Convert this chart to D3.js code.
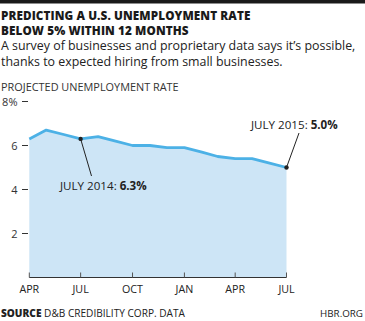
<!DOCTYPE html>
<html><head><meta charset="utf-8">
<script src="https://cdn.jsdelivr.net/npm/d3@7"></script>
<style>
html,body{margin:0;padding:0;background:#fff;}
svg{display:block;font-family:"Open Sans",sans-serif;}
</style></head>
<body>
<svg id="c" width="365" height="321"></svg>
<script>
const months = ["2014-04","2014-05","2014-06","2014-07","2014-08","2014-09","2014-10","2014-11","2014-12","2015-01","2015-02","2015-03","2015-04","2015-05","2015-06","2015-07"];
const rates = [6.3,6.7,6.5,6.3,6.4,6.2,6.0,6.0,5.9,5.9,5.7,5.5,5.4,5.4,5.2,5.0];
const xTickLabels = ["APR","JUL","OCT","JAN","APR","JUL"];
const xTickMonths = ["2014-04","2014-07","2014-10","2015-01","2015-04","2015-07"];
const yTicks = [2,4,6,8];
const yTickLabels = ["2","4","6","8%"];

const parse = d3.timeParse("%Y-%m");
const data = months.map((m,i)=>({date:parse(m), v:rates[i]}));

const svg = d3.select("#c");
const x = d3.scaleTime().domain([parse(months[0]), parse(months[months.length-1])]).range([29.3, 286.5]);
const y = d3.scaleLinear().domain([0,8]).range([277.5, 101.5]);

// top bar
svg.append("rect").attr("x",0).attr("y",0).attr("width",365).attr("height",3.5).attr("fill","#1a1a1a");

// title
const title = svg.append("text").attr("font-weight",800).attr("font-size",11.7).attr("fill","#1a1a1a").attr("letter-spacing",0.1);
title.append("tspan").attr("x",1).attr("y",19.5).text("PREDICTING A U.S. UNEMPLOYMENT RATE");
title.append("tspan").attr("x",1).attr("y",35).text("BELOW 5% WITHIN 12 MONTHS");
svg.append("text").attr("x",1).attr("y",50).attr("font-size",12.4).attr("fill","#222")
  .text("A survey of businesses and proprietary data says it\u2019s possible,");
svg.append("text").attr("x",1).attr("y",66).attr("font-size",12.4).attr("fill","#222")
  .text("thanks to expected hiring from small businesses.");

svg.append("text").attr("x",1).attr("y",90.5).attr("font-size",10.9).attr("fill","#333").text("PROJECTED UNEMPLOYMENT RATE");

// area + line
const area = d3.area().x(d=>x(d.date)).y0(y(0)).y1(d=>y(d.v));
svg.append("path").datum(data).attr("d",area).attr("fill","#cde5f6");
const line = d3.line().x(d=>x(d.date)).y(d=>y(d.v));
svg.append("path").datum(data).attr("d",line).attr("fill","none").attr("stroke","#4cb1e6").attr("stroke-width",2.8).attr("stroke-linejoin","round");

// y axis ticks
yTicks.forEach((t,i)=>{
  svg.append("line").attr("x1",22).attr("x2",28).attr("y1",y(t)).attr("y2",y(t)).attr("stroke","#333").attr("stroke-width",1);
  svg.append("text").attr("x",17.5).attr("y",y(t)+4).attr("text-anchor","end").attr("font-size",11).attr("fill","#333").text(yTickLabels[i]);
});

// x axis
const xa = svg.append("g");
xa.append("line").attr("x1",x(parse(months[0]))).attr("x2",x(parse(months[months.length-1]))).attr("y1",y(0)).attr("y2",y(0)).attr("stroke","#333").attr("stroke-width",1);
xTickMonths.forEach((m,i)=>{
  const xx = x(parse(m));
  xa.append("line").attr("x1",xx).attr("x2",xx).attr("y1",y(0)-5).attr("y2",y(0)).attr("stroke","#555").attr("stroke-width",1);
  xa.append("text").attr("x",xx).attr("y",292.5).attr("text-anchor","middle").attr("font-size",10.7).attr("fill","#222").text(xTickLabels[i]);
});

// annotations
function annot(idx, tx, ty, lx, ly, label, val){
  const d = data[idx];
  svg.append("line").attr("x1",x(d.date)).attr("y1",y(d.v)).attr("x2",lx).attr("y2",ly).attr("stroke","#222").attr("stroke-width",1);
  svg.append("circle").attr("cx",x(d.date)).attr("cy",y(d.v)).attr("r",2.2).attr("fill","#222");
  const t = svg.append("text").attr("x",tx).attr("y",ty).attr("font-size",11.6).attr("fill","#222");
  t.append("tspan").text(label+" ");
  t.append("tspan").attr("font-weight",700).text(val);
}
annot(3, 60, 189.5, 91.5, 176, "JULY 2014:", "6.3%");
annot(15, 251, 128.5, 299, 133, "JULY 2015:", "5.0%");

// footer
const src = svg.append("text").attr("x",1).attr("y",317).attr("font-size",10.1).attr("fill","#222");
src.append("tspan").attr("font-weight",800).text("SOURCE ");
src.append("tspan").text("D&B CREDIBILITY CORP. DATA");
svg.append("text").attr("x",363).attr("y",317).attr("text-anchor","end").attr("font-size",9.8).attr("fill","#222").text("HBR.ORG");
</script>
</body></html>
